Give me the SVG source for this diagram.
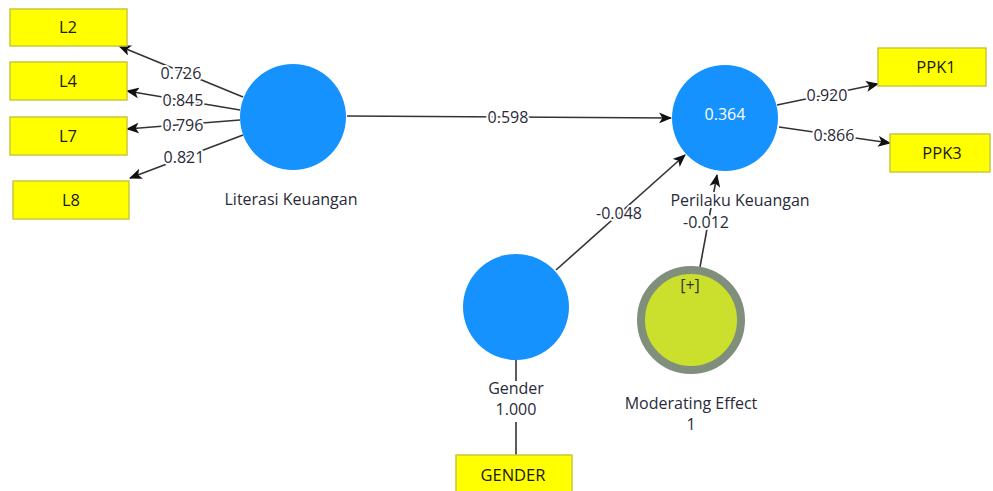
<svg xmlns="http://www.w3.org/2000/svg" width="993" height="491" viewBox="0 0 993 491">
<style>
.box{fill:#ffff00;stroke:#c8c83c;stroke-width:1.5}
.lv{fill:#1592fd}
.t{font-family:"Open Sans","Noto Sans",sans-serif;font-size:16px;fill:#2a2a3a;text-anchor:middle}
.bt{font-family:"Open Sans","Noto Sans",sans-serif;font-size:16.5px;fill:#1a1a1a;text-anchor:middle}
.el{stroke:#fff;stroke-width:4;paint-order:stroke;stroke-linejoin:round}
.ln{stroke:#333;stroke-width:1.6;fill:none}
</style>
<defs>
<marker id="ah" viewBox="0 0 12 10" refX="11" refY="5" markerWidth="13" markerHeight="11" markerUnits="userSpaceOnUse" orient="auto">
<path d="M0,0 L12,5 L0,10 L3,5 Z" fill="#111"/>
</marker>
</defs>
<rect width="993" height="491" fill="#fff"/>
<g id="connectors">
<line class="ln" x1="243" y1="97" x2="119" y2="46" marker-end="url(#ah)"/>
<line class="ln" x1="240" y1="110" x2="127" y2="91" marker-end="url(#ah)"/>
<line class="ln" x1="240" y1="120" x2="127" y2="129" marker-end="url(#ah)"/>
<line class="ln" x1="243" y1="135" x2="130" y2="178" marker-end="url(#ah)"/>
<line class="ln" x1="347" y1="116" x2="671" y2="118" marker-end="url(#ah)"/>
<line class="ln" x1="777" y1="105" x2="878" y2="84" marker-end="url(#ah)"/>
<line class="ln" x1="779" y1="127" x2="890" y2="143" marker-end="url(#ah)"/>
<line class="ln" x1="556" y1="270" x2="685" y2="155" marker-end="url(#ah)"/>
<line class="ln" x1="700" y1="267" x2="717" y2="175" marker-end="url(#ah)"/>
<line class="ln" x1="516" y1="360" x2="516" y2="381"/>
<line class="ln" x1="516" y1="422" x2="516" y2="456"/>
<text class="t el" x="181" y="79">0.726</text>
<text class="t el" x="183" y="106">0.845</text>
<text class="t el" x="183" y="131">0.796</text>
<text class="t el" x="184" y="163">0.821</text>
<text class="t el" x="508" y="123">0.598</text>
<text class="t el" x="827" y="101">0.920</text>
<text class="t el" x="834" y="141">0.866</text>
<text class="t el" x="619" y="219">-0.048</text>
<text class="t el" x="706" y="228">-0.012</text>
</g>
<g id="L2"><rect class="box" x="10" y="9" width="117" height="37"/><text class="bt" x="68" y="33">L2</text></g>
<g id="L4"><rect class="box" x="10" y="62" width="117" height="38"/><text class="bt" x="68" y="87">L4</text></g>
<g id="L7"><rect class="box" x="10" y="117" width="117" height="38"/><text class="bt" x="68" y="142">L7</text></g>
<g id="L8"><rect class="box" x="13" y="181" width="116" height="38"/><text class="bt" x="71" y="206">L8</text></g>
<g id="PPK1"><rect class="box" x="878" y="48" width="108" height="38"/><text class="bt" x="936" y="73">PPK1</text></g>
<g id="PPK3"><rect class="box" x="890" y="134" width="100" height="38"/><text class="bt" x="942" y="159">PPK3</text></g>
<g id="GENDER"><rect class="box" x="456" y="455" width="116" height="38"/><text class="bt" x="513" y="481">GENDER</text></g>
<g id="literasi">
<circle class="lv" cx="293" cy="117" r="53"/>
<text class="t" x="291" y="205">Literasi Keuangan</text>
</g>
<g id="perilaku">
<circle class="lv" cx="725" cy="118" r="53"/>
<text class="t" x="725" y="120" style="fill:#fff">0.364</text>
<text class="t el" x="740" y="206">Perilaku Keuangan</text>
</g>
<g id="gender">
<circle class="lv" cx="516" cy="307" r="53"/>
<text class="t" x="516" y="394">Gender</text>
<text class="t" x="516" y="415">1.000</text>
</g>
<g id="moderating">
<circle cx="691" cy="320" r="50" fill="#cbe02d" stroke="#7f8f7c" stroke-width="8"/>
<text class="t" x="690" y="291" style="fill:#333">[+]</text>
<text class="t" x="691" y="409">Moderating Effect</text>
<text class="t" x="691" y="430">1</text>
</g>
</svg>
